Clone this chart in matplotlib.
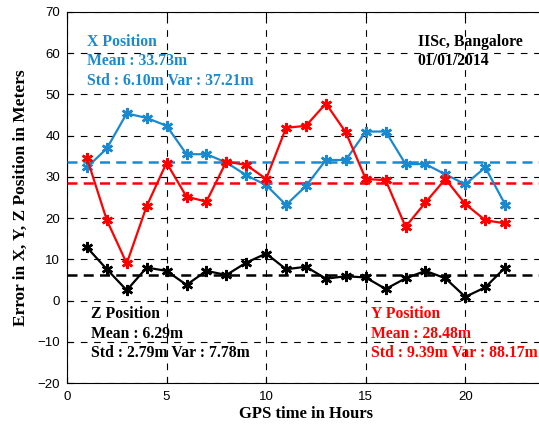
import numpy as np
import matplotlib.pyplot as plt

# _____________________________________
# Data

hours = np.arange(1, 23)

x_err = [32.3, 36.9, 45.4, 44.3, 42.4, 35.5, 35.5, 33.5, 30.4, 28.0, 23.2,
         27.8, 34.1, 34.1, 41.0, 41.0, 33.1, 33.1, 30.6, 28.2, 32.3, 23.3]
y_err = [34.6, 19.5, 9.0, 22.9, 33.4, 25.2, 24.0, 33.7, 32.9, 29.5, 41.9,
         42.4, 47.8, 40.8, 29.5, 29.2, 17.9, 23.8, 29.5, 23.4, 19.5, 18.7]
z_err = [12.9, 7.6, 2.5, 8.0, 7.2, 3.8, 7.2, 6.2, 9.2, 11.4, 7.6,
         8.2, 5.3, 5.9, 5.6, 2.8, 5.4, 7.2, 5.4, 0.9, 3.2, 8.0]

x_stats = [33.73, 6.10, 37.21]   # mean, std, var
y_stats = [28.48, 9.39, 88.17]
z_stats = [6.29, 2.79, 7.78]

x_ticks = [0, 5, 10, 15, 20]
y_ticks = list(range(-20, 80, 10))

blue = '#1a8ad0'
red = '#ff0000'
black = '#000000'

serif = 'Liberation Serif'
sans = 'Liberation Sans'

# _____________________________________
# Figure

fig = plt.figure(figsize=(5.39, 4.25), dpi=100)
ax = fig.add_axes([67 / 539, 42 / 425, 478 / 539, 371 / 425])

star = (6, 2, 0)
ax.plot(hours, x_err, '-', color=blue, lw=1.6, marker=star, ms=8, mew=1.8, zorder=4)
ax.plot(hours, y_err, '-', color=red, lw=1.6, marker=star, ms=8, mew=1.8, zorder=4)
ax.plot(hours, z_err, '-', color=black, lw=1.6, marker=star, ms=8, mew=1.8, zorder=4)

# mean lines
ax.axhline(x_stats[0], color=blue, lw=1.8, ls=(0, (4, 2.5)), zorder=3)
ax.axhline(y_stats[0], color=red, lw=1.8, ls=(0, (4, 2.5)), zorder=3)
ax.axhline(z_stats[0], color=black, lw=1.8, ls=(0, (4, 2.5)), zorder=3)

ax.set_xlim(0, 24)
ax.set_ylim(-20, 70)
ax.set_xticks(x_ticks)
ax.set_yticks(y_ticks)
ax.grid(True, color='black', ls=(0, (6, 6)), lw=0.8)
ax.tick_params(direction='in', length=4, top=True, right=True, labelsize=9.5)
ax.tick_params(axis='x', pad=6)
ax.tick_params(axis='y', pad=5)
for lab in ax.get_xticklabels() + ax.get_yticklabels():
    lab.set_fontfamily(sans)

ax.set_xlabel('GPS time in Hours', fontfamily=serif, fontweight='bold', fontsize=12, labelpad=2)
ax.set_ylabel('Error in X, Y, Z Position in Meters', fontfamily=serif, fontweight='bold',
              fontsize=12.5, labelpad=6)

# annotations
def block(x, y, lines, color):
    for i, s in enumerate(lines):
        ax.text(x, y - i * 4.75, s, color=color, fontfamily=serif, fontweight='bold',
                fontsize=11.3, va='center', ha='left', zorder=5)

block(1.0, 62.8, ['X Position', 'Mean : %.2fm' % x_stats[0],
                  'Std : %.2fm Var : %.2fm' % (x_stats[1], x_stats[2])], blue)
block(17.6, 62.8, ['IISc, Bangalore', '01/01/2014'], black)
block(1.2, -3.3, ['Z Position', 'Mean : %.2fm' % z_stats[0],
                  'Std : %.2fm Var : %.2fm' % (z_stats[1], z_stats[2])], black)
block(15.25, -3.3, ['Y Position', 'Mean : %.2fm' % y_stats[0],
                    'Std : %.2fm Var : %.2fm' % (y_stats[1], y_stats[2])], red)

fig.savefig('out.png', dpi=100)
